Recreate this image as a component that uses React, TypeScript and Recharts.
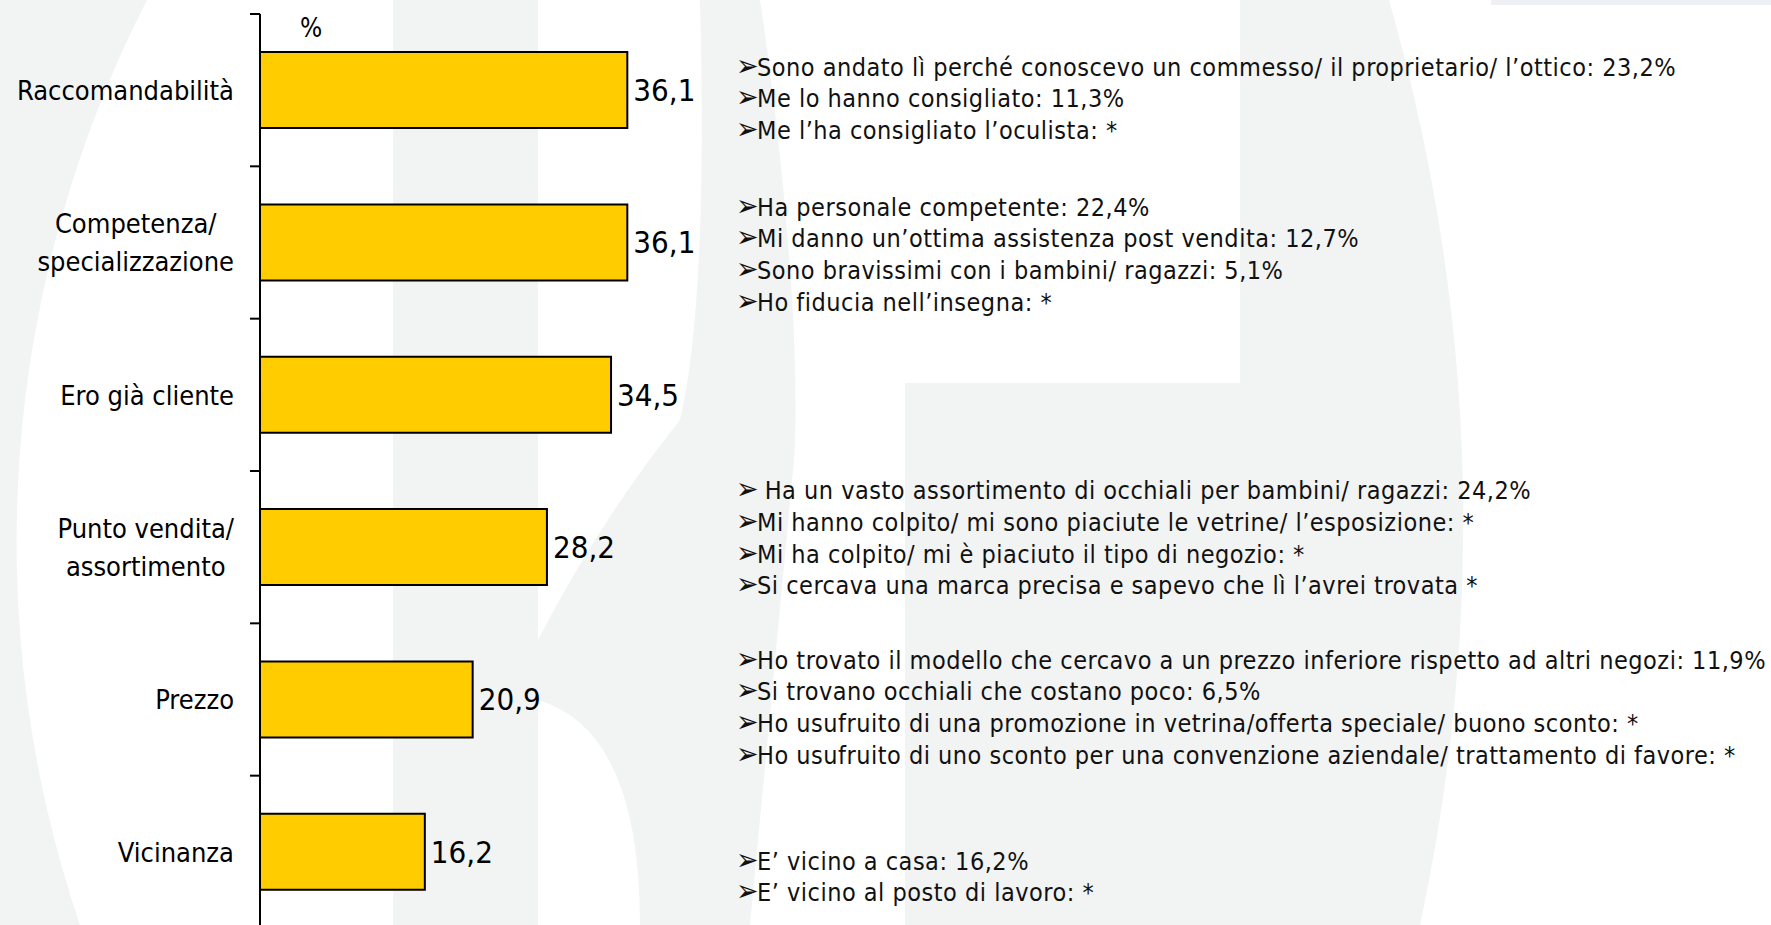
import React from "react";
import { BarChart, Bar, XAxis, YAxis, LabelList } from "recharts";

// motivi di scelta del punto vendita (%)
const categories = [
  "Raccomandabilità",
  "Competenza/\nspecializzazione",
  "Ero già cliente",
  "Punto vendita/\nassortimento",
  "Prezzo",
  "Vicinanza",
];
const values = [36.1, 36.1, 34.5, 28.2, 20.9, 16.2];
const unitLabel = "%";

// dettaglio delle risposte, una lista per categoria
const notesRaccomandabilita = [
  "Sono andato lì perché conoscevo un commesso/ il proprietario/ l’ottico: 23,2%",
  "Me lo hanno consigliato: 11,3%",
  "Me l’ha consigliato l’oculista: *",
];
const notesCompetenza = [
  "Ha personale competente: 22,4%",
  "Mi danno un’ottima assistenza post vendita: 12,7%",
  "Sono bravissimi con i bambini/ ragazzi: 5,1%",
  "Ho fiducia nell’insegna: *",
];
const notesGiaCliente: string[] = [];
const notesPuntoVendita = [
  " Ha un vasto assortimento di occhiali per bambini/ ragazzi: 24,2%",
  "Mi hanno colpito/ mi sono piaciute le vetrine/ l’esposizione: *",
  "Mi ha colpito/ mi è piaciuto il tipo di negozio: *",
  "Si cercava una marca precisa e sapevo che lì l’avrei trovata *",
];
const notesPrezzo = [
  "Ho trovato il modello che cercavo a un prezzo inferiore rispetto ad altri negozi: 11,9%",
  "Si trovano occhiali che costano poco: 6,5%",
  "Ho usufruito di una promozione in vetrina/offerta speciale/ buono sconto: *",
  "Ho usufruito di uno sconto per una convenzione aziendale/ trattamento di favore: *",
];
const notesVicinanza = ["E’ vicino a casa: 16,2%", "E’ vicino al posto di lavoro: *"];

const notes = [
  notesRaccomandabilita,
  notesCompetenza,
  notesGiaCliente,
  notesPuntoVendita,
  notesPrezzo,
  notesVicinanza,
];

const data = categories.map((name, i) => ({ name, value: values[i] }));

const FONT = "'DejaVu Sans Condensed', 'DejaVu Sans', sans-serif";
const LABEL_SIZE = 27;
const VALUE_SIZE = 31;
const NOTE_SIZE = 25;
const NOTE_LINE = 31.7;
// centre of first line of each note block
const NOTE_TOPS = [65.5, 205.6, 0, 489, 658.5, 859.5];
const WATERMARK = "#f2f3f3";

const TICK_SIZE = 10;
const TICK_MARGIN = 16;

const fmt = (v: number) => v.toFixed(1).replace(".", ",");

let ctx: CanvasRenderingContext2D | null = null;
function measure(s: string, size: number) {
  if (!ctx) ctx = document.createElement("canvas").getContext("2d");
  if (!ctx) return s.length * size * 0.5;
  ctx.font = `condensed ${size}px ${FONT}`;
  return ctx.measureText(s).width;
}

function CategoryTick(props: any) {
  const { x, y, payload, index, visibleTicksCount } = props;
  const half = payload.offset ?? 76;
  const lines: string[] = String(payload.value).split("\n");
  const axisX = x + TICK_SIZE + TICK_MARGIN;
  const lh = 38;
  const maxW = Math.max(...lines.map((l) => measure(l, LABEL_SIZE)));
  const multi = lines.length > 1;
  const tx = multi ? x - maxW / 2 : x;
  return (
    <g>
      <line x1={axisX - TICK_SIZE} x2={axisX} y1={y - half} y2={y - half} stroke="#000" strokeWidth={2} />
      {index === visibleTicksCount - 1 && (
        <line x1={axisX - TICK_SIZE} x2={axisX} y1={y + half} y2={y + half} stroke="#000" strokeWidth={2} />
      )}
      <text
        x={tx}
        y={y}
        textAnchor={multi ? "middle" : "end"}
        fontFamily={FONT}
        fontStretch="condensed"
        fontSize={LABEL_SIZE}
        fill="#000"
      >
        {lines.map((l, i) => (
          <tspan key={i} x={tx} y={y + (i - (lines.length - 1) / 2) * lh} dy="0.36em">
            {l}
          </tspan>
        ))}
      </text>
    </g>
  );
}

function Watermark() {
  return (
    <svg width={1771} height={925} style={{ position: "absolute", left: 0, top: 0 }}>
      <path d="M0,0 L147,0 A1190,1190 0 0,0 80,925 L0,925 Z" fill={WATERMARK} />
      <rect x={393} y={0} width={145} height={925} fill={WATERMARK} />
      <path
        d="M700,0 L760,0 C790,200 800,380 794,460 L750,925 L640,925 Q640,730 538,700 L538,640 Q600,520 680,420 Q708,300 700,0 Z"
        fill={WATERMARK}
      />
      <rect x={905} y={383} width={340} height={542} fill={WATERMARK} />
      <path d="M1240,0 L1389,0 Q1520,460 1420,925 L1240,925 Z" fill={WATERMARK} />
      <rect x={1491} y={0} width={280} height={5} fill="#eef0f5" />
    </svg>
  );
}

export default function App() {
  return (
    <div
      style={{
        position: "absolute",
        left: 0,
        top: 0,
        width: 1771,
        height: 925,
        overflow: "hidden",
        background: "#fff",
        fontFamily: FONT,
        fontStretch: "condensed",
      }}
    >
      <Watermark />
      <div style={{ position: "absolute", left: 0, top: 0 }}>
        <BarChart
          width={760}
          height={942}
          data={data}
          layout="vertical"
          margin={{ top: 14, right: 93, bottom: 14, left: 0 }}
          barCategoryGap="25%"
        >
          <XAxis type="number" domain={[0, 40]} hide />
          <YAxis
            type="category"
            dataKey="name"
            width={260}
            interval={0}
            axisLine={{ stroke: "#000", strokeWidth: 2 }}
            tickLine={false}
            tickSize={TICK_SIZE}
            tickMargin={TICK_MARGIN}
            tick={<CategoryTick />}
          />
          <Bar dataKey="value" fill="#FFCC00" stroke="#000" strokeWidth={2} isAnimationActive={false}>
            <LabelList
              dataKey="value"
              position="right"
              offset={6}
              formatter={(v: any) => fmt(Number(v))}
              fill="#000"
              fontSize={VALUE_SIZE}
              fontFamily={FONT}
              style={{ fontStretch: "condensed" }}
            />
          </Bar>
        </BarChart>
      </div>
      <div
        style={{
          position: "absolute",
          left: 300,
          top: 13,
          fontSize: 26,
          lineHeight: "30px",
          color: "#000",
        }}
      >
        {unitLabel}
      </div>
      {notes.map((block, b) =>
        block.map((line, i) => (
          <div
            key={`${b}-${i}`}
            style={{
              position: "absolute",
              left: 736,
              top: NOTE_TOPS[b] + i * NOTE_LINE - NOTE_LINE / 2,
              height: NOTE_LINE,
              lineHeight: `${NOTE_LINE}px`,
              fontSize: NOTE_SIZE,
              letterSpacing: 0.5,
              color: "#111",
              whiteSpace: "pre",
            }}
          >
            <span style={{ display: "inline-block", width: 21, fontSize: 30, letterSpacing: 0 }}>➢</span>
            {line}
          </div>
        ))
      )}
    </div>
  );
}
